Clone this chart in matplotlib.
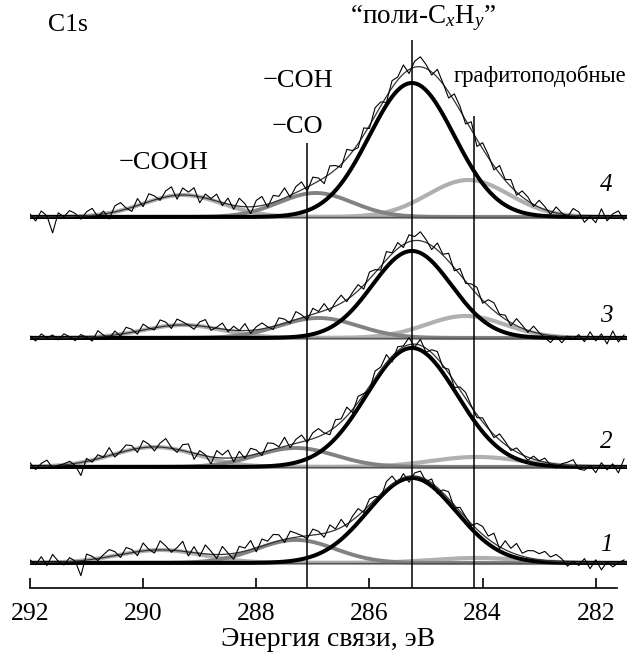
import numpy as np
import matplotlib
matplotlib.use("Agg")
import matplotlib.pyplot as plt

plt.rcParams['font.family'] = ['Liberation Serif', 'DejaVu Serif']
plt.rcParams['mathtext.fontset'] = 'custom'
plt.rcParams['mathtext.rm'] = 'Liberation Serif'
plt.rcParams['mathtext.it'] = 'Liberation Serif:italic'

# energy grid of the measured points, eV
energy = np.linspace(292.0, 281.5, 106)
# fine grid for the fitted components
efine = np.linspace(292.3, 281.3, 700)

# vertical offsets of the spectra (stacked), arbitrary units
offsets = {'1': 25, '2': 121, '3': 250, '4': 371}

# fitted components: (centre eV, height, sigma eV)
comp_poli = {'1': (285.25, 85, 0.78), '2': (285.25, 119, 0.80),
             '3': (285.25, 87, 0.70), '4': (285.25, 134, 0.75)}
comp_coh = {'1': (287.3, 23, 0.70), '2': (287.3, 19, 0.70),
            '3': (286.9, 20, 0.70), '4': (286.95, 24, 0.65)}
comp_cooh = {'1': (289.7, 13, 0.75), '2': (289.8, 20, 0.75),
             '3': (289.3, 13, 0.70), '4': (289.3, 22, 0.70)}
comp_graph = {'1': (284.1, 5, 0.80), '2': (284.1, 10, 0.80),
              '3': (284.3, 22, 0.70), '4': (284.25, 37, 0.72)}

resid = {
    '4': [3, -4, 6, 1, -16, 4, 0, 6, 3, -3,
          4, 7, -2, 3, -6, 6, 8, 1, -4, 7,
          -3, 8, 4, -2, 6, 9, -4, 7, 3, 8,
          -6, 4, 1, 7, -3, 6, -4, 8, 3, -7,
          6, 9, -3, 7, 4, 10, -2, 6, 8, -4,
          7, 3, -6, 8, 4, -3, 9, 1, -4, 7,
          -3, 8, 4, -6, 7, 3, 9, -4, 6, 10,
          4, -3, 8, 1, -6, 7, 4, -4, 8, -7,
          6, 3, -4, 8, 1, 7, -3, 6, 4, -2,
          7, 3, -3, 6, 1, -2, 7, 4, -6, 0,
          -6, 8, -4, 3, 6, -3],
    '3': [2, -3, 4, 0, 3, -2, 4, 1, -3, 3,
          0, -4, 6, 1, -3, 4, -2, 6, 3, -3,
          6, 1, -2, 7, 4, -3, 6, 3, 0, -4,
          4, 7, -3, 1, 6, -2, 4, 0, 7, -3,
          3, 6, 1, -3, 7, 4, -2, 8, 3, -4,
          6, 1, 7, -3, 4, 8, -2, 3, 6, -4,
          7, 3, -4, 8, 1, 6, -3, 7, 4, 9,
          3, -4, 7, 1, 8, -3, 6, -2, 4, 7,
          -3, 6, 8, 1, 4, -3, 7, 3, -2, 6,
          1, -3, -7, 0, -6, 1, -2, 3, -4, 6,
          -3, 4, -6, 7, -4, 3],
    '2': [4, -3, 3, 6, -2, 0, 1, 3, -2, -13,
          3, -2, 4, 0, 8, -3, 1, 6, 4, -4,
          7, 3, -4, 4, 9, 1, -3, 6, 8, -6,
          4, 1, -7, 7, 3, 8, -4, 6, -2, 7,
          4, -3, 8, 6, 1, 9, -3, 4, 7, -2,
          6, 8, 1, -4, 7, 3, 9, -3, 6, 1,
          -4, 7, 3, 8, -6, 4, 1, 7, -3, 6,
          -4, 3, 7, -2, 4, -6, 3, 6, 1, -3,
          4, 1, -3, 6, 3, -2, 4, 1, -3, 3,
          0, 4, -2, -4, 1, 3, 6, -3, -4, 1,
          -6, 4, -3, 3, -6, 8],
    '1': [3, -2, 6, -3, 8, 1, -3, 4, 0, -15,
          6, 3, -2, 3, 7, 4, -3, 6, 3, -4,
          8, 1, -3, 9, 4, -2, 3, 10, -4, 6,
          -3, 9, 3, -4, 8, 1, -6, 6, 3, 9,
          -4, 7, 3, 8, 6, -3, 7, 4, 1, -3,
          6, 3, -4, 7, 1, 8, -3, 4, 7, -2,
          6, 3, -4, 7, 8, -3, 4, -6, 3, 6,
          -2, 4, -6, 3, 7, -3, 4, 1, -2, 6,
          8, 3, 10, -2, 9, 4, 11, 3, 7, 8,
          6, 9, 4, 7, 3, -4, 1, -3, 4, -6,
          3, -7, 1, -4, 0, 3],
}

# marker lines: (position eV, top of line)
markers = [(287.1, 445), (285.25, 548), (284.15, 472)]


def gauss(e, p):
    c, h, s = p
    return h * np.exp(-(e - c) ** 2 / (2 * s ** 2))


fig = plt.figure(figsize=(6.27, 6.54), dpi=100)
ax = fig.add_axes([0.0478, 0.101, 0.952, 0.899])

light = '#b0b0b0'
mid = '#828282'
for key in ['4', '3', '2', '1']:
    off = offsets[key]
    parts = [comp_poli[key], comp_coh[key], comp_cooh[key], comp_graph[key]]
    ax.plot(efine, off + gauss(efine, comp_cooh[key]), color=light, lw=3.0, zorder=2)
    ax.plot(efine, off + gauss(efine, comp_graph[key]), color=light, lw=3.0, zorder=2)
    ax.plot(efine, off + gauss(efine, comp_coh[key]), color=mid, lw=2.8, zorder=3)
    ax.plot(efine, off + gauss(efine, comp_poli[key]), color='black', lw=2.9, zorder=4)
    env_f = sum(gauss(efine, p) for p in parts)
    ax.plot(efine, off + env_f, color='#333333', lw=0.9, zorder=5)
    env = sum(gauss(energy, p) for p in parts)
    ax.plot(energy, off + env + np.array(resid[key]), color='black', lw=0.8, zorder=6)
    ax.axhline(off, color='#555555', lw=1.0, zorder=3)

for xpos, top in markers:
    ax.vlines(xpos, 0, top, color='black', lw=1.1, zorder=7)

# labels
ax.text(291.68, 563, 'C1s', fontsize=18.5, ha='left', va='center')
ax.text(289.64, 425, '−COOH', fontsize=19, ha='center', va='center')
ax.text(287.26, 507, '−COH', fontsize=19, ha='center', va='center')
ax.text(287.28, 461, '−CO', fontsize=19, ha='center', va='center')
ax.text(285.06, 570, '“поли-C$_{\\mathit{x}}$H$_{\\mathit{y}}$”', fontsize=19.5,
        ha='center', va='center')
ax.text(282.99, 506, 'графитоподобные', fontsize=16.3, ha='center', va='baseline')
num_pos = {'4': (281.81, 403), '3': (281.81, 272), '2': (281.81, 146), '1': (281.81, 43)}
for key, (xp, yp) in num_pos.items():
    ax.text(xp, yp, key, fontsize=18, style='italic', ha='center', va='center')

ax.set_xlim(292.0, 281.45)
ax.set_ylim(0, 588)
for s in ['left', 'right', 'top']:
    ax.spines[s].set_visible(False)
ax.spines['bottom'].set_bounds(281.62, 292.0)
ax.spines['bottom'].set_linewidth(1.2)
ax.set_yticks([])
ax.set_xticks([292, 290, 288, 286, 284, 282])
ax.tick_params(axis='x', direction='in', length=7, width=1.2, pad=11, labelsize=18.5)
ax.set_xlabel('Энергия связи, эВ', fontsize=20, labelpad=1)

fig.savefig('out.png', dpi=100)
